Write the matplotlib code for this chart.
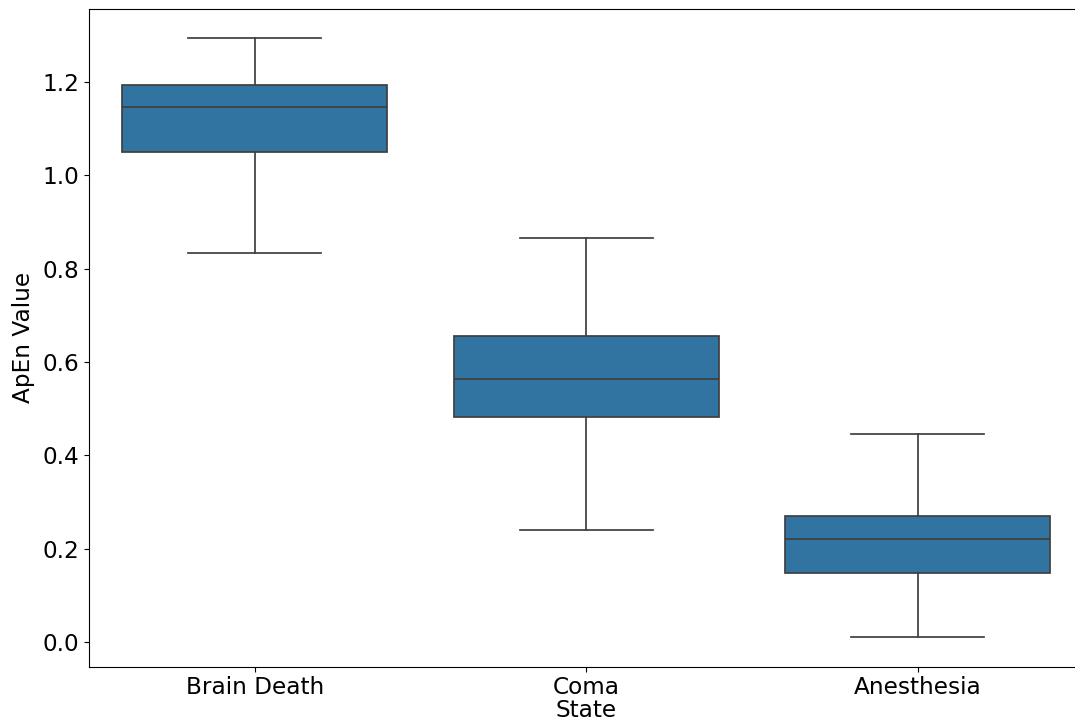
import matplotlib
matplotlib.use("Agg")
import matplotlib.pyplot as plt

categories = ["Brain Death", "Coma", "Anesthesia"]
whisker_low = [0.834, 0.240, 0.011]
q1 = [1.049, 0.483, 0.148]
median = [1.147, 0.563, 0.220]
q3 = [1.193, 0.655, 0.270]
whisker_high = [1.293, 0.865, 0.446]

fig = plt.figure(figsize=(10.75, 7.24), dpi=100)
left, right, top, bottom = 89, 1083.5, 9, 666.7
ax = fig.add_axes([left/1075, 1 - bottom/724, (right-left)/1075, (bottom-top)/724])

stats = []
for i, c in enumerate(categories):
    stats.append(dict(label=c, whislo=whisker_low[i], q1=q1[i], med=median[i],
                      q3=q3[i], whishi=whisker_high[i], fliers=[]))

line_col = "#3f3f3f"
ax.bxp(stats, positions=range(len(categories)), widths=0.8, patch_artist=True,
       showfliers=False,
       boxprops=dict(facecolor="#3274a1", edgecolor=line_col, linewidth=1.25),
       medianprops=dict(color=line_col, linewidth=1.25),
       whiskerprops=dict(color=line_col, linewidth=1.25),
       capprops=dict(color=line_col, linewidth=1.25))

ax.set_xlim(-0.5, 2.5)
ax.set_ylim(-0.053, 1.356)
ax.set_yticks([0.0, 0.2, 0.4, 0.6, 0.8, 1.0, 1.2])
ax.set_xticks(range(len(categories)))
ax.set_xticklabels(categories)
ax.spines["right"].set_visible(False)
ax.tick_params(labelsize=16.7)
ax.set_xlabel("State", fontsize=16.7, labelpad=0)
ax.set_ylabel("ApEn Value", fontsize=16.7, labelpad=5)

fig.savefig("out.png", dpi=100)
